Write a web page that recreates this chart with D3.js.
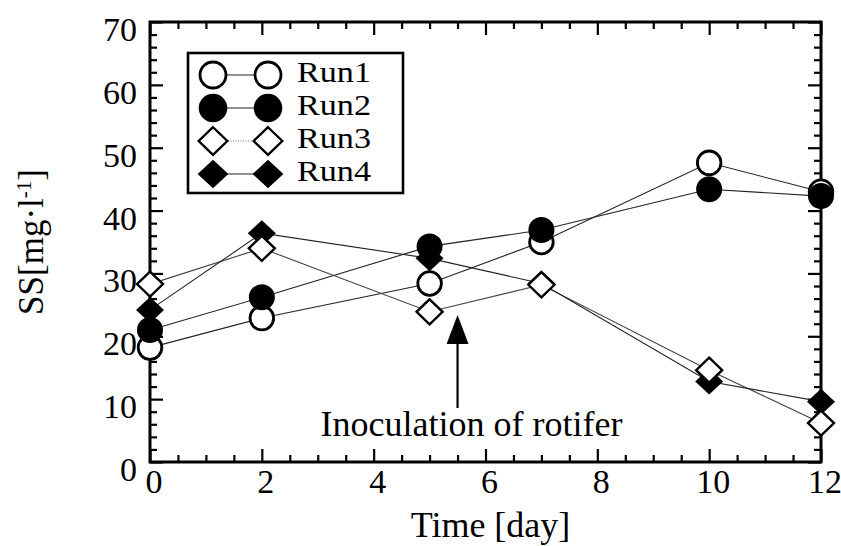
<!DOCTYPE html>
<html>
<head>
<meta charset="utf-8">
<script src="https://cdn.jsdelivr.net/npm/d3@7/dist/d3.min.js"></script>
<style>
  html, body { margin: 0; padding: 0; background: #fff; }
  svg { display: block; }
  text { font-family: "Liberation Serif", "Times New Roman", serif; fill: #000; }
</style>
</head>
<body>
<svg id="chart" width="841" height="546"></svg>
<script>
// Sampling days and suspended solids (SS) per run
const days = [0, 2, 5, 7, 10, 12];
const run1 = [18.2, 22.9, 28.4, 35.0, 47.6, 43.0];
const run2 = [21.0, 26.2, 34.3, 36.9, 43.4, 42.3];
const run3 = [28.3, 34.0, 23.9, 28.2, 14.6, 6.2];
const run4 = [24.2, 36.4, 32.4, 28.4, 12.8, 9.6];

const seriesNames = ["Run1", "Run2", "Run3", "Run4"];
const xTicks = [0, 2, 4, 6, 8, 10, 12];
const yTicks = [0, 10, 20, 30, 40, 50, 60, 70];

// Rotifer inoculation marker: day and the arrow's value span
const inoculationDay = 5.5;
const inoculationSpan = [8.6, 23.4];
const inoculationLabel = "Inoculation of rotifer";

const series = [
  { name: seriesNames[0], values: run1, shape: "circle",  filled: false, dotted: false },
  { name: seriesNames[1], values: run2, shape: "circle",  filled: true,  dotted: false },
  { name: seriesNames[2], values: run3, shape: "diamond", filled: false, dotted: true },
  { name: seriesNames[3], values: run4, shape: "diamond", filled: true,  dotted: false }
];

const svg = d3.select("#chart");
const plotLeft = 150, plotRight = 821, plotTop = 22, plotBottom = 462;

const x = d3.scaleLinear().domain([0, 12]).range([plotLeft, plotRight]);
const y = d3.scaleLinear().domain([0, 70]).range([plotBottom, plotTop]);

const FONT = 34;

// ---- axes: inward ticks on all four sides ----
function styleAxis(g) {
  g.select(".domain").remove();
  g.selectAll(".tick line").attr("stroke", "#000").attr("stroke-width", 2.2);
  g.selectAll("text").remove();
}
const xMinor = d3.range(0, 12.001, 0.5).filter(d => d % 2 !== 0);
const yMinor = d3.range(0, 70.001, 2).filter(d => d % 10 !== 0);

svg.append("g").attr("transform", `translate(0,${plotBottom})`)
  .call(d3.axisBottom(x).tickValues(xTicks).tickSize(-13)).call(styleAxis);
svg.append("g").attr("transform", `translate(0,${plotBottom})`)
  .call(d3.axisBottom(x).tickValues(xMinor).tickSize(-7)).call(styleAxis);
svg.append("g").attr("transform", `translate(0,${plotTop})`)
  .call(d3.axisTop(x).tickValues(xTicks).tickSize(-13)).call(styleAxis);
svg.append("g").attr("transform", `translate(0,${plotTop})`)
  .call(d3.axisTop(x).tickValues(xMinor).tickSize(-7)).call(styleAxis);
svg.append("g").attr("transform", `translate(${plotLeft},0)`)
  .call(d3.axisLeft(y).tickValues(yTicks).tickSize(-13)).call(styleAxis);
svg.append("g").attr("transform", `translate(${plotLeft},0)`)
  .call(d3.axisLeft(y).tickValues(yMinor).tickSize(-7)).call(styleAxis);
svg.append("g").attr("transform", `translate(${plotRight},0)`)
  .call(d3.axisRight(y).tickValues(yTicks).tickSize(-13)).call(styleAxis);
svg.append("g").attr("transform", `translate(${plotRight},0)`)
  .call(d3.axisRight(y).tickValues(yMinor).tickSize(-7)).call(styleAxis);

// frame
svg.append("rect")
  .attr("x", plotLeft).attr("y", plotTop)
  .attr("width", plotRight - plotLeft).attr("height", plotBottom - plotTop)
  .attr("fill", "none").attr("stroke", "#000").attr("stroke-width", 3);

// tick labels
svg.append("g").selectAll("text").data(xTicks).join("text")
  .attr("x", d => x(d) + 4).attr("y", plotBottom + 31)
  .attr("text-anchor", "middle").attr("font-size", FONT)
  .text(d => d);
svg.append("g").selectAll("text").data(yTicks).join("text")
  .attr("x", plotLeft - 13).attr("y", d => y(d) + 19)
  .attr("text-anchor", "end").attr("font-size", FONT)
  .text(d => d);

// axis titles
svg.append("text")
  .attr("x", (plotLeft + plotRight) / 2 + 5).attr("y", 537)
  .attr("text-anchor", "middle").attr("font-size", 36)
  .text("Time [day]");

const yTitle = svg.append("text")
  .attr("transform", "translate(43,242) rotate(-90)")
  .attr("text-anchor", "middle").attr("font-size", 35);
yTitle.append("tspan").text("SS[mg\u00B7l");
yTitle.append("tspan").attr("font-size", 21).attr("dy", -12).text("-1");
yTitle.append("tspan").attr("dy", 12).text("]");

// ---- marker drawing ----
function diamondPath(hw, hh) {
  return `M0,${-hh}L${hw},0L0,${hh}L${-hw},0Z`;
}
function drawMarker(g, s, cx, cy, k) {
  if (s.shape === "circle") {
    g.append("circle")
      .attr("cx", cx).attr("cy", cy)
      .attr("r", (s.filled ? 13 : 11.8) * k)
      .attr("fill", s.filled ? "#000" : "#fff")
      .attr("stroke", "#000").attr("stroke-width", s.filled ? 0 : 2.8);
  } else {
    g.append("path")
      .attr("transform", `translate(${cx},${cy})`)
      .attr("d", s.filled ? diamondPath(14 * k, 13 * k) : diamondPath(13 * k, 12.5 * k))
      .attr("fill", s.filled ? "#000" : "#fff")
      .attr("stroke", "#000").attr("stroke-width", s.filled ? 0 : 2.4)
      .attr("stroke-linejoin", "miter");
  }
}

// ---- lines (behind markers) ----
const line = d3.line().x((d, i) => x(days[i])).y(d => y(d));
const plot = svg.append("g");
series.forEach(s => {
  plot.append("path")
    .attr("d", line(s.values))
    .attr("fill", "none")
    .attr("stroke", s.dotted ? "#444" : "#222")
    .attr("stroke-width", 1.1);
});

// ---- markers, stacked Run1, Run2, Run4, Run3 ----
const drawOrder = [0, 1, 3, 2];
drawOrder.forEach(k => {
  const s = series[k];
  s.values.forEach((v, i) => drawMarker(plot, s, x(days[i]), y(v), 1));
});

// ---- inoculation arrow ----
const ax = x(inoculationDay);
const yTip = y(inoculationSpan[1]);
const yBase = y(inoculationSpan[0]);
svg.append("line")
  .attr("x1", ax).attr("x2", ax)
  .attr("y1", yTip + 20).attr("y2", yBase)
  .attr("stroke", "#000").attr("stroke-width", 2.2);
svg.append("path")
  .attr("d", `M${ax},${yTip}L${ax + 11},${yTip + 29}L${ax - 11},${yTip + 29}Z`)
  .attr("fill", "#000");
svg.append("text")
  .attr("x", ax + 14).attr("y", yBase + 28)
  .attr("text-anchor", "middle").attr("font-size", 36)
  .text(inoculationLabel);

// ---- legend ----
const legend = svg.append("g");
legend.append("rect")
  .attr("x", 188).attr("y", 53).attr("width", 215).attr("height", 140)
  .attr("fill", "#fff").attr("stroke", "#000").attr("stroke-width", 2.6);
series.forEach((s, i) => {
  const ly = 75 + i * 33;
  legend.append("line")
    .attr("x1", 213).attr("x2", 268).attr("y1", ly).attr("y2", ly)
    .attr("stroke", s.dotted ? "#777" : "#222")
    .attr("stroke-width", 1.2)
    .attr("stroke-dasharray", s.dotted ? "1,1.5" : null);
  drawMarker(legend, s, 213, ly, 1.1);
  drawMarker(legend, s, 268, ly, 1.1);
  legend.append("text")
    .attr("x", 297).attr("y", ly + 7)
    .attr("font-size", 29.5)
    .attr("textLength", 74)
    .attr("lengthAdjust", "spacingAndGlyphs")
    .text(s.name);
});
</script>
</body>
</html>
